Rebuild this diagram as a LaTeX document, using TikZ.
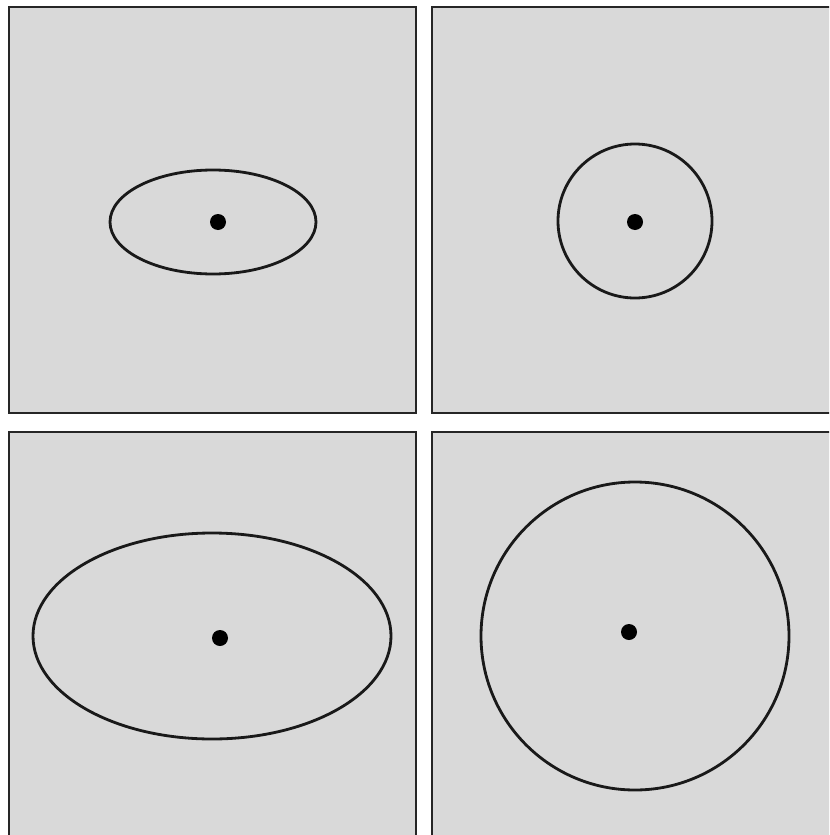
\documentclass[tikz,border=0pt]{standalone}
\definecolor{panelgray}{HTML}{D9D9D9}
\tikzset{
  panel/.style={fill=panelgray,draw=black!85,line width=1.3pt},
  ring/.style={draw=black!90,line width=1.6pt},
  centre/.style={fill=black}
}
\begin{document}
\begin{tikzpicture}[x=0.02cm,y=-0.02cm]
  \useasboundingbox (0,0) rectangle (829,835);
  \clip (0,0) rectangle (829,835);
  % four panels
  \draw[panel] (9,7) rectangle (416,413);
  \draw[panel] (432,7) rectangle (845,413);
  \draw[panel] (9,432) rectangle (416,850);
  \draw[panel] (432,432) rectangle (845,850);
  % top row
  \draw[ring] (213,222) ellipse [x radius=103, y radius=52];
  \fill[centre] (218,222) circle (8);
  \draw[ring] (635,221) circle (77);
  \fill[centre] (635,222) circle (8);
  % bottom row
  \draw[ring] (212,636) ellipse [x radius=179, y radius=103];
  \fill[centre] (220,638) circle (8);
  \draw[ring] (635,636) circle (154);
  \fill[centre] (629,632) circle (8);
\end{tikzpicture}
\end{document}
